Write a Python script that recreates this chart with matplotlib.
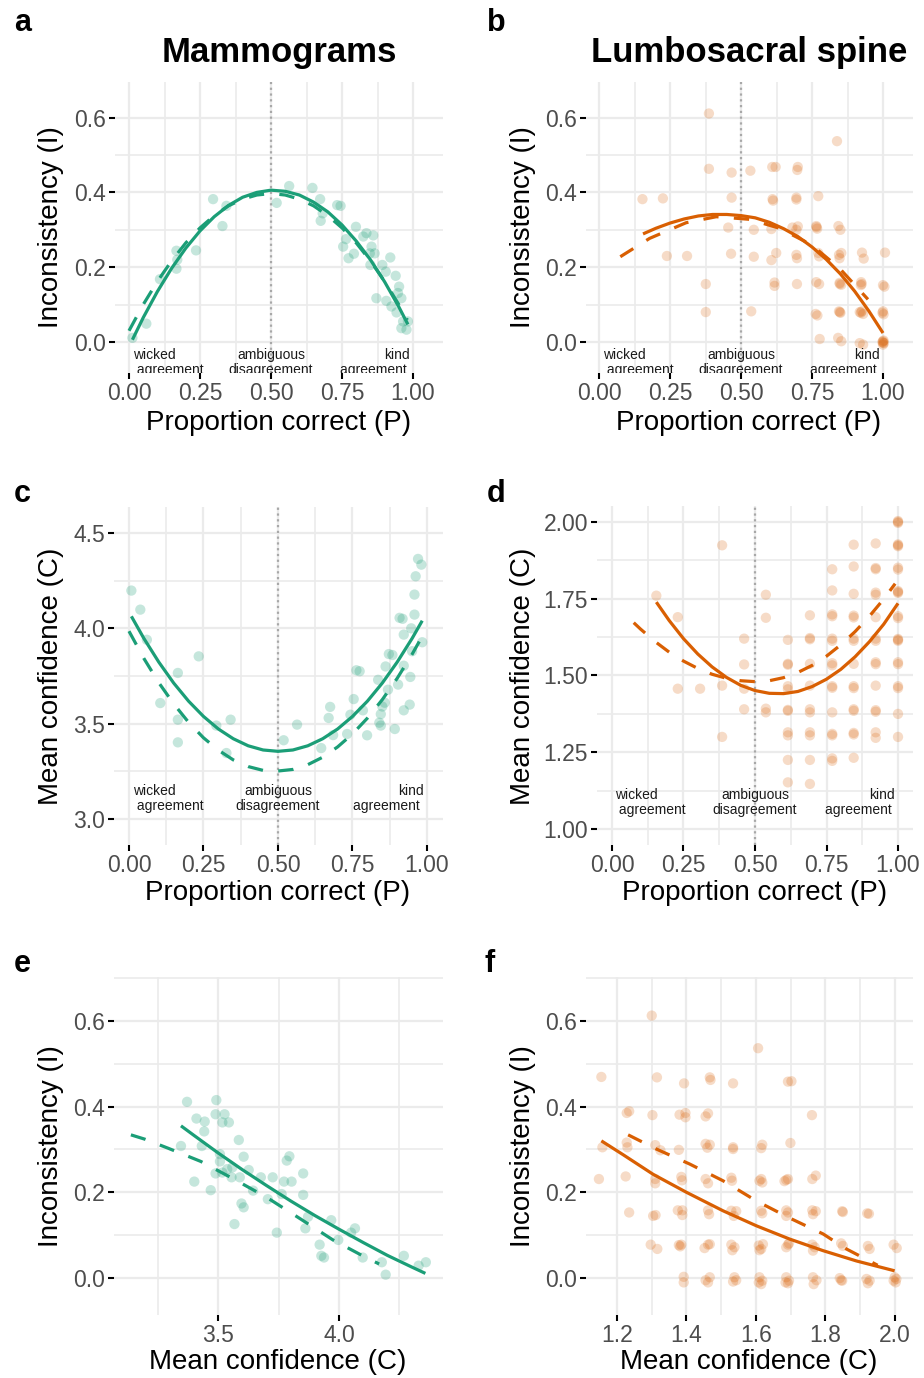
import matplotlib
matplotlib.use('Agg')
import matplotlib.pyplot as plt
import numpy as np

plt.rcParams['font.family'] = ['Liberation Sans', 'DejaVu Sans']

GREEN = '#1B9E77'
ORANGE = '#D95F02'
GRID = '#EBEBEB'

# ---------------- data ----------------
# Panel a: mammograms, proportion correct vs inconsistency
mam_a_P = [0.012, 0.061, 0.109, 0.167, 0.167, 0.17, 0.236, 0.296, 0.329, 0.343, 0.520, 0.564,
           0.646, 0.673, 0.682, 0.675, 0.733, 0.745, 0.799, 0.764, 0.754, 0.773, 0.792, 0.836,
           0.860, 0.854, 0.848, 0.865, 0.850, 0.892, 0.904, 0.920, 0.939, 0.951, 0.871, 0.906,
           0.924, 0.942, 0.959, 0.947, 0.965, 0.959, 0.977, 0.982, 0.825]
mam_a_I = [0.011, 0.049, 0.168, 0.244, 0.196, 0.22, 0.245, 0.382, 0.310, 0.364, 0.372, 0.417,
           0.412, 0.382, 0.344, 0.324, 0.366, 0.364, 0.308, 0.275, 0.255, 0.224, 0.236, 0.291,
           0.285, 0.255, 0.237, 0.237, 0.206, 0.206, 0.188, 0.226, 0.177, 0.148, 0.117, 0.110,
           0.095, 0.079, 0.117, 0.131, 0.055, 0.037, 0.033, 0.055, 0.282]
fit_a_solid_P = [0.012, 0.05, 0.1, 0.15, 0.2, 0.25, 0.3, 0.35, 0.4, 0.45, 0.5, 0.55, 0.6, 0.65,
                 0.7, 0.75, 0.8, 0.85, 0.9, 0.95, 0.982]
fit_a_solid_I = [0.006, 0.065, 0.135, 0.197, 0.251, 0.297, 0.335, 0.365, 0.387, 0.400, 0.406,
                 0.403, 0.393, 0.374, 0.348, 0.313, 0.270, 0.220, 0.161, 0.094, 0.047]
fit_a_dash_P = [0.0, 0.05, 0.1, 0.15, 0.2, 0.25, 0.3, 0.35, 0.4, 0.45, 0.5, 0.55, 0.6, 0.65,
                0.7, 0.75, 0.8, 0.85, 0.9, 0.95, 0.98]
fit_a_dash_I = [0.030, 0.100, 0.162, 0.217, 0.265, 0.305, 0.338, 0.364, 0.382, 0.393, 0.397,
                0.393, 0.382, 0.364, 0.338, 0.305, 0.265, 0.217, 0.162, 0.100, 0.059]

# Panel b: lumbosacral spine, proportion correct vs inconsistency
spn_b_P = [0.387, 0.838, 0.387, 0.467, 0.533, 0.610, 0.622, 0.700, 0.698,
           0.153, 0.225, 0.467, 0.611, 0.613, 0.695, 0.695, 0.772,
           0.455, 0.545, 0.607, 0.681, 0.700, 0.695, 0.765, 0.768, 0.766, 0.843, 0.850,
           0.239, 0.310, 0.465, 0.545, 0.607, 0.624, 0.695, 0.697, 0.772, 0.775, 0.845, 0.853,
           0.847, 0.926, 0.932, 1.007,
           0.376, 0.618, 0.618, 0.697, 0.765, 0.775, 0.847, 0.853, 0.848, 0.923, 0.925, 0.922,
           1.000, 1.005,
           0.376, 0.536, 0.763, 0.769, 0.845, 0.850, 0.848, 0.918, 0.930, 0.925, 0.922, 1.000,
           1.002, 0.998,
           0.777, 0.842, 0.853, 0.918, 0.930, 1.000, 1.003, 1.000, 0.998, 1.002, 1.000]
spn_b_I = [0.611, 0.537, 0.463, 0.453, 0.458, 0.468, 0.468, 0.468, 0.460,
           0.382, 0.384, 0.386, 0.382, 0.378, 0.386, 0.381, 0.390,
           0.306, 0.300, 0.302, 0.306, 0.309, 0.300, 0.310, 0.303, 0.307, 0.310, 0.300,
           0.230, 0.230, 0.236, 0.228, 0.219, 0.238, 0.233, 0.224, 0.238, 0.229, 0.233, 0.238,
           0.224, 0.239, 0.223, 0.239,
           0.155, 0.159, 0.150, 0.155, 0.160, 0.155, 0.158, 0.153, 0.155, 0.160, 0.155, 0.152,
           0.152, 0.148,
           0.080, 0.082, 0.075, 0.071, 0.082, 0.078, 0.080, 0.080, 0.075, 0.082, 0.078, 0.082,
           0.074, 0.078,
           0.008, 0.011, 0.002, -0.003, -0.007, 0.002, -0.003, -0.007, 0.000, 0.004, -0.002]
fit_b_solid_P = [0.155, 0.2, 0.25, 0.3, 0.35, 0.4, 0.45, 0.5, 0.55, 0.6, 0.65, 0.7, 0.75, 0.8,
                 0.85, 0.9, 0.95, 1.0]
fit_b_solid_I = [0.289, 0.304, 0.318, 0.329, 0.337, 0.341, 0.341, 0.338, 0.332, 0.320, 0.303,
                 0.282, 0.254, 0.221, 0.182, 0.136, 0.083, 0.024]
fit_b_dash_P = [0.075, 0.178, 0.307, 0.413, 0.53, 0.636, 0.748, 0.847, 0.947]
fit_b_dash_I = [0.228, 0.277, 0.319, 0.335, 0.328, 0.304, 0.260, 0.197, 0.114]

# Panel c: mammograms, proportion correct vs mean confidence
mam_c_P = [0.008, 0.038, 0.06, 0.105, 0.164, 0.164, 0.164, 0.234, 0.293, 0.327,
           0.341, 0.519, 0.564, 0.645, 0.67, 0.675, 0.685, 0.732, 0.743, 0.754,
           0.763, 0.774, 0.785, 0.799, 0.836, 0.84, 0.845, 0.85, 0.845, 0.861,
           0.858, 0.872, 0.884, 0.869, 0.892, 0.903, 0.908, 0.918, 0.922, 0.922,
           0.922, 0.942, 0.944, 0.947, 0.95, 0.958, 0.958, 0.962, 0.97, 0.981, 0.984]
mam_c_C = [4.198, 4.098, 3.94, 3.608, 3.766, 3.521, 3.402, 3.853, 3.49, 3.346,
           3.521, 3.413, 3.495, 3.372, 3.53, 3.588, 3.44, 3.446, 3.547, 3.629,
           3.78, 3.775, 3.57, 3.439, 3.73, 3.505, 3.55, 3.59, 3.49, 3.80,
           3.61, 3.865, 3.86, 3.678, 3.472, 3.705, 4.055, 4.05, 3.967, 3.804,
           3.57, 3.60, 3.745, 4.0, 3.88, 4.177, 4.072, 4.273, 4.364, 4.334, 3.927]
fit_c_solid_P = [0.008, 0.05, 0.1, 0.15, 0.2, 0.25, 0.3, 0.35, 0.4, 0.45, 0.5, 0.55, 0.6, 0.65,
                 0.7, 0.75, 0.8, 0.85, 0.9, 0.95, 0.984]
fit_c_solid_C = [4.063, 3.947, 3.823, 3.713, 3.618, 3.538, 3.472, 3.421, 3.384, 3.362, 3.355,
                 3.362, 3.384, 3.421, 3.472, 3.538, 3.618, 3.713, 3.823, 3.947, 4.040]
fit_c_dash_P = [0.0, 0.05, 0.1, 0.15, 0.2, 0.25, 0.3, 0.35, 0.4, 0.45, 0.49, 0.55, 0.6, 0.65,
                0.7, 0.75, 0.8, 0.85, 0.9, 0.95, 0.985]
fit_c_dash_C = [3.985, 3.842, 3.715, 3.604, 3.507, 3.426, 3.361, 3.310, 3.275, 3.255, 3.250,
                3.260, 3.285, 3.324, 3.378, 3.446, 3.529, 3.626, 3.738, 3.864, 3.961]

# Panel d: lumbosacral spine, proportion correct vs mean confidence (grouped by P column)
spn_d_cols = [0.155, 0.23, 0.308, 0.385, 0.462, 0.538, 0.615, 0.692, 0.77, 0.845, 0.922, 1.0]
spn_d_C_by_col = [
    [1.76],
    [1.69, 1.457],
    [1.457],
    [1.924, 1.467, 1.30],
    [1.62, 1.536, 1.457, 1.39],
    [1.763, 1.688, 1.392, 1.38],
    [1.616, 1.538, 1.535, 1.465, 1.455, 1.388, 1.385, 1.315, 1.305, 1.225, 1.152],
    [1.696, 1.622, 1.618, 1.538, 1.467, 1.39, 1.38, 1.315, 1.305, 1.225, 1.147],
    [1.846, 1.777, 1.699, 1.693, 1.62, 1.613, 1.54, 1.533, 1.465, 1.46, 1.38, 1.31, 1.305,
     1.23, 1.222],
    [1.926, 1.855, 1.766, 1.695, 1.689, 1.62, 1.613, 1.538, 1.465, 1.459, 1.39, 1.385, 1.313,
     1.308, 1.232],
    [1.93, 1.85, 1.846, 1.77, 1.763, 1.69, 1.62, 1.613, 1.543, 1.537, 1.467, 1.387, 1.382,
     1.315, 1.297],
    [2.003, 1.997, 2.0, 1.927, 1.921, 1.924, 1.851, 1.845, 1.775, 1.769, 1.772, 1.693, 1.687,
     1.619, 1.613, 1.616, 1.543, 1.537, 1.465, 1.459, 1.375, 1.30],
]
fit_d_solid_P = [0.155, 0.2, 0.25, 0.3, 0.35, 0.4, 0.45, 0.5, 0.55, 0.6, 0.65, 0.7, 0.75, 0.8,
                 0.85, 0.9, 0.95, 1.0]
fit_d_solid_C = [1.739, 1.679, 1.620, 1.570, 1.528, 1.494, 1.468, 1.451, 1.442, 1.441, 1.448,
                 1.464, 1.488, 1.520, 1.561, 1.610, 1.667, 1.735]
fit_d_dash_P = [0.076, 0.1, 0.15, 0.2, 0.25, 0.3, 0.35, 0.4, 0.45, 0.5, 0.55, 0.6, 0.65, 0.7,
                0.75, 0.8, 0.85, 0.9, 0.95, 0.99]
fit_d_dash_C = [1.672, 1.651, 1.611, 1.576, 1.547, 1.523, 1.504, 1.491, 1.483, 1.480, 1.483,
                1.493, 1.510, 1.533, 1.563, 1.600, 1.643, 1.693, 1.749, 1.799]

# Panel e: mammograms, mean confidence vs inconsistency
mam_e_C = [3.372, 3.347, 3.411, 3.445, 3.443, 3.433, 3.402, 3.47, 3.493, 3.49,
           3.527, 3.518, 3.545, 3.49, 3.508, 3.508, 3.518, 3.538, 3.556, 3.559,
           3.586, 3.606, 3.59, 3.627, 3.597, 3.606, 3.568, 3.645, 3.677, 3.706,
           3.726, 3.773, 3.784, 3.795, 3.804, 3.763, 3.743, 3.852, 3.852, 3.861,
           3.872, 3.968, 3.92, 3.927, 3.938, 3.997, 4.05, 4.066, 4.098, 4.177,
           4.193, 4.268, 4.329, 4.359]
mam_e_I = [0.411, 0.308, 0.372, 0.365, 0.342, 0.308, 0.225, 0.205, 0.415, 0.382,
           0.382, 0.363, 0.363, 0.244, 0.289, 0.272, 0.246, 0.254, 0.235, 0.258,
           0.322, 0.283, 0.235, 0.252, 0.174, 0.165, 0.126, 0.204, 0.235, 0.184,
           0.235, 0.225, 0.274, 0.284, 0.225, 0.196, 0.106, 0.244, 0.194, 0.116,
           0.143, 0.135, 0.078, 0.052, 0.048, 0.089, 0.106, 0.116, 0.048, 0.037,
           0.008, 0.052, 0.029, 0.037]
fit_e_solid_C = [3.347, 3.4, 3.5, 3.6, 3.7, 3.8, 3.9, 4.0, 4.1, 4.2, 4.3, 4.357]
fit_e_solid_I = [0.355, 0.333, 0.292, 0.253, 0.216, 0.180, 0.146, 0.114, 0.083, 0.053, 0.026,
                 0.011]
fit_e_dash_C = [3.14, 3.197, 3.293, 3.429, 3.565, 3.702, 3.838, 3.975, 4.111, 4.166]
fit_e_dash_I = [0.334, 0.324, 0.303, 0.272, 0.231, 0.188, 0.139, 0.089, 0.048, 0.033]

# Panel f: lumbosacral spine, mean confidence vs inconsistency
spn_f_C = [1.300, 1.606,
           1.155, 1.315, 1.393, 1.467, 1.469, 1.534, 1.692, 1.702,
           1.228, 1.235, 1.302, 1.380, 1.397, 1.397, 1.455, 1.462, 1.761,
           1.158, 1.228, 1.230, 1.310, 1.325, 1.378, 1.455, 1.467, 1.460, 1.534, 1.534, 1.618,
           1.615, 1.699,
           1.148, 1.225, 1.310, 1.310, 1.385, 1.387, 1.455, 1.462, 1.529, 1.531, 1.615, 1.618,
           1.610, 1.687, 1.692, 1.682, 1.762, 1.772,
           1.235, 1.304, 1.311, 1.375, 1.388, 1.388, 1.462, 1.465, 1.529, 1.543, 1.536, 1.615,
           1.618, 1.687, 1.692, 1.687, 1.762, 1.772, 1.764, 1.848, 1.850, 1.920, 1.925,
           1.297, 1.316, 1.378, 1.385, 1.382, 1.452, 1.462, 1.467, 1.529, 1.538, 1.532, 1.608,
           1.615, 1.620, 1.610, 1.687, 1.692, 1.695, 1.762, 1.769, 1.764, 1.845, 1.850, 1.922,
           1.927, 1.996, 2.005,
           1.392, 1.392, 1.455, 1.467, 1.462, 1.538, 1.534, 1.543, 1.610, 1.618, 1.615, 1.608,
           1.687, 1.695, 1.692, 1.685, 1.764, 1.774, 1.766, 1.841, 1.848, 1.845, 1.918, 1.927,
           1.922, 1.999, 2.002, 1.996, 2.004]
spn_f_I = [0.612, 0.536,
           0.469, 0.468, 0.454, 0.468, 0.462, 0.454, 0.458, 0.459,
           0.385, 0.389, 0.380, 0.381, 0.385, 0.375, 0.377, 0.384, 0.380,
           0.305, 0.316, 0.305, 0.310, 0.298, 0.299, 0.313, 0.311, 0.304, 0.305, 0.301, 0.311,
           0.303, 0.315,
           0.231, 0.237, 0.231, 0.221, 0.236, 0.228, 0.231, 0.221, 0.234, 0.227, 0.231, 0.223,
           0.227, 0.229, 0.231, 0.226, 0.231, 0.239,
           0.153, 0.145, 0.147, 0.158, 0.158, 0.147, 0.158, 0.149, 0.157, 0.156, 0.145, 0.157,
           0.151, 0.158, 0.153, 0.145, 0.158, 0.156, 0.149, 0.156, 0.154, 0.151, 0.150,
           0.078, 0.068, 0.077, 0.078, 0.074, 0.070, 0.078, 0.079, 0.078, 0.072, 0.065, 0.076,
           0.068, 0.079, 0.065, 0.072, 0.078, 0.081, 0.078, 0.072, 0.064, 0.081, 0.075, 0.075,
           0.068, 0.078, 0.070,
           0.003, -0.010, -0.005, 0.002, -0.010, 0.002, -0.008, -0.005, 0.002, -0.006, -0.014,
           -0.010, 0.002, -0.006, -0.012, -0.010, 0.002, -0.005, -0.014, 0.000, -0.006, -0.005,
           -0.002, -0.006, -0.012, 0.002, -0.010, -0.006, -0.002]
fit_f_solid_C = [1.155, 1.217, 1.304, 1.4, 1.505, 1.601, 1.697, 1.793, 1.889, 1.999]
fit_f_solid_I = [0.320, 0.288, 0.242, 0.200, 0.157, 0.122, 0.091, 0.064, 0.040, 0.017]
fit_f_dash_C = [1.232, 1.313, 1.409, 1.505, 1.601, 1.697, 1.793, 1.86, 1.95]
fit_f_dash_I = [0.334, 0.301, 0.266, 0.227, 0.18, 0.14, 0.103, 0.068, 0.03]

titles = ['Mammograms', 'Lumbosacral spine']
panel_letters = ['a', 'b', 'c', 'd', 'e', 'f']
region_labels = ['wicked\n agreement', 'ambiguous\ndisagreement', 'kind\nagreement ']

ticksP = [0.0, 0.25, 0.5, 0.75, 1.0]
ticksI = [0.0, 0.2, 0.4, 0.6]

spn_d_P = [p for p, cs in zip(spn_d_cols, spn_d_C_by_col) for _ in cs]
spn_d_C = [c for cs in spn_d_C_by_col for c in cs]

# ---------------- figure ----------------
W, H = 924, 1378
fig = plt.figure(figsize=(W / 100, H / 100), dpi=100)


def make_ax(l, t, r, b):
    return fig.add_axes([l / W, 1 - b / H, (r - l) / W, (b - t) / H])


def style(ax, xlim, ylim, xmaj, xmin, ymaj, ymin, xfmt, yfmt):
    ax.set_xlim(*xlim)
    ax.set_ylim(*ylim)
    for s in ax.spines.values():
        s.set_visible(False)
    ax.set_xticks(xmaj)
    ax.set_xticks(xmin, minor=True)
    ax.set_yticks(ymaj)
    ax.set_yticks(ymin, minor=True)
    ax.set_xticklabels([xfmt.format(v) for v in xmaj])
    ax.set_yticklabels([yfmt.format(v) for v in ymaj])
    ax.grid(which='major', color=GRID, lw=1.6)
    ax.grid(which='minor', color=GRID, lw=1.2)
    ax.set_axisbelow(True)
    ax.tick_params(which='major', length=4, width=1.5, color='black',
                   labelcolor='#4D4D4D', labelsize=16.5, pad=2.5)
    ax.tick_params(which='minor', length=0)


def pts(ax, x, y, color, alpha):
    ax.scatter(x, y, s=55, color=color, alpha=alpha, edgecolors='none', zorder=2)


def fits(ax, xs, ys, xd, yd, color):
    ax.plot(xs, ys, color=color, lw=2.3, solid_capstyle='butt', solid_joinstyle='round', zorder=3)
    ax.plot(xd, yd, color=color, lw=2.3, ls=(0, (4.8, 4.8)), dash_capstyle='butt', zorder=3)


def regions(ax, y, xl, xr):
    # y is the baseline of the last text line
    kw = dict(fontsize=10, color='#1A1A1A', va='baseline', clip_on=True, linespacing=1.1, zorder=4)
    ax.text(xl, y, region_labels[0], ha='left', multialignment='left', **kw)
    ax.text(0.5, y, region_labels[1], ha='center', multialignment='center', **kw)
    ax.text(xr, y, region_labels[2], ha='right', multialignment='right', **kw)


def vline(ax):
    ax.axvline(0.5, color='#A8A8A8', lw=1.6, ls=(0, (1, 1.6)), zorder=1.5)


fmt2 = '{:.2f}'
fmt1 = '{:.1f}'

# a
ax = make_ax(115, 82, 443, 373)
style(ax, (-0.0493, 1.1056), (-0.0829, 0.6952), ticksP, [0.125, 0.375, 0.625, 0.875],
      ticksI, [0.1, 0.3, 0.5], fmt2, fmt1)
vline(ax)
pts(ax, mam_a_P, mam_a_I, GREEN, 0.25)
fits(ax, fit_a_solid_P, fit_a_solid_I, fit_a_dash_P, fit_a_dash_I, GREEN)
regions(ax, -0.0856, 0.014, 0.99)

# b
ax = make_ax(586, 82, 913, 373)
style(ax, (-0.0458, 1.1056), (-0.0829, 0.6952), ticksP, [0.125, 0.375, 0.625, 0.875],
      ticksI, [0.1, 0.3, 0.5], fmt2, fmt1)
vline(ax)
pts(ax, spn_b_P, spn_b_I, ORANGE, 0.22)
fits(ax, fit_b_solid_P, fit_b_solid_I, fit_b_dash_P, fit_b_dash_I, ORANGE)
regions(ax, -0.0856, 0.014, 0.99)

# c
ax = make_ax(114, 507, 443, 845)
style(ax, (-0.0503, 1.0537), (2.8637, 4.6363), ticksP, [0.125, 0.375, 0.625, 0.875],
      [3.0, 3.5, 4.0, 4.5], [3.25, 3.75, 4.25], fmt2, fmt1)
vline(ax)
pts(ax, mam_c_P, mam_c_C, GREEN, 0.25)
fits(ax, fit_c_solid_P, fit_c_solid_C, fit_c_dash_P, fit_c_dash_C, GREEN)
regions(ax, 3.047, 0.013, 0.99)

# d
ax = make_ax(597, 506, 913, 845)
style(ax, (-0.0524, 1.0524), (0.948, 2.052), ticksP, [0.125, 0.375, 0.625, 0.875],
      [1.0, 1.25, 1.5, 1.75, 2.0], [1.125, 1.375, 1.625, 1.875], fmt2, fmt2)
vline(ax)
pts(ax, spn_d_P, spn_d_C, ORANGE, 0.22)
fits(ax, fit_d_solid_P, fit_d_solid_C, fit_d_dash_P, fit_d_dash_C, ORANGE)
regions(ax, 1.049, 0.012, 0.99)

# e
ax = make_ax(114, 977, 443, 1315)
style(ax, (3.0702, 4.4298), (-0.086, 0.702), [3.5, 4.0], [3.25, 3.75, 4.25],
      ticksI, [0.1, 0.3, 0.5, 0.7], fmt1, fmt1)
pts(ax, mam_e_C, mam_e_I, GREEN, 0.25)
fits(ax, fit_e_solid_C, fit_e_solid_I, fit_e_dash_C, fit_e_dash_I, GREEN)

# f
ax = make_ax(586, 977, 913, 1315)
style(ax, (1.1108, 2.0518), (-0.086, 0.702), [1.2, 1.4, 1.6, 1.8, 2.0], [1.3, 1.5, 1.7, 1.9],
      ticksI, [0.1, 0.3, 0.5, 0.7], fmt1, fmt1)
pts(ax, spn_f_C, spn_f_I, ORANGE, 0.22)
fits(ax, fit_f_solid_C, fit_f_solid_I, fit_f_dash_C, fit_f_dash_I, ORANGE)

# ---------------- texts ----------------
def ftext(x, y, s, **kw):
    fig.text(x / W, 1 - y / H, s, **kw)


ftext(279, 62, titles[0], ha='center', va='baseline', fontsize=25, fontweight='bold')
ftext(749, 62, titles[1], ha='center', va='baseline', fontsize=25, fontweight='bold')

for (x, y), s in zip([(14, 31), (487, 31), (14, 502), (487, 502), (14, 972), (485, 972)],
                     panel_letters):
    ftext(x, y, s, ha='left', va='baseline', fontsize=22, fontweight='bold')

lab = dict(fontsize=20, color='black', ha='center', va='center')
ftext(279, 423, 'Proportion correct (P)', **lab)
ftext(749, 423, 'Proportion correct (P)', **lab)
ftext(278, 893, 'Proportion correct (P)', **lab)
ftext(755, 893, 'Proportion correct (P)', **lab)
ftext(278, 1362, 'Mean confidence (C)', **lab)
ftext(749, 1362, 'Mean confidence (C)', **lab)

ftext(51, 227, 'Inconsistency (I)', rotation=90, **lab)
ftext(523, 227, 'Inconsistency (I)', rotation=90, **lab)
ftext(51, 676, 'Mean confidence (C)', rotation=90, **lab)
ftext(523, 676, 'Mean confidence (C)', rotation=90, **lab)
ftext(51, 1146, 'Inconsistency (I)', rotation=90, **lab)
ftext(523, 1146, 'Inconsistency (I)', rotation=90, **lab)

fig.savefig('out.png', dpi=100)
